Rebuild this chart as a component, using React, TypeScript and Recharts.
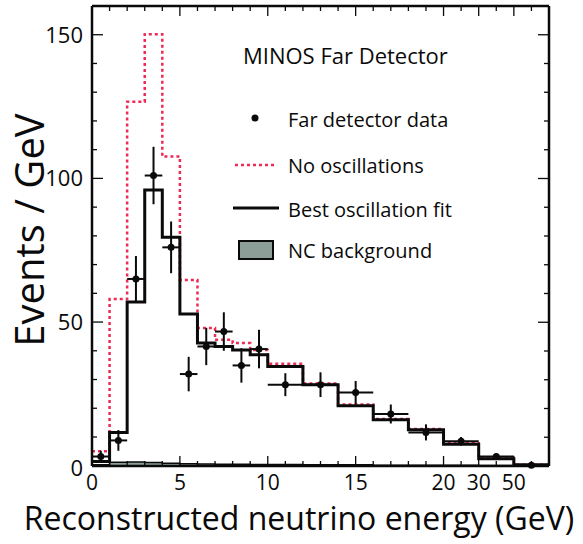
import {
  ComposedChart,
  Line,
  Area,
  Scatter,
  ErrorBar,
  XAxis,
  YAxis,
} from 'recharts';

// bin edges in GeV (axis is linear to 20 GeV, then compressed: 30, 50, overflow)
const binEdges = [0, 1, 2, 3, 4, 5, 6, 7, 8, 9, 10, 12, 14, 16, 18, 20, 30, 50, 200];

const bestFit = [1.5, 11.6, 57, 96, 79.5, 52.8, 42.7, 41.5, 40.3, 38.6, 34.5, 28.2, 20.9, 16, 12.5, 7.5, 2.4, 0.3];
const noOscillations = [5, 58, 126.7, 150.2, 107.6, 64.6, 47.9, 43.8, 42.7, 40.3, 35.5, 28.6, 21.3, 16.3, 12.8, 7.8, 2.6, 0.3];
const ncBackground = [0.3, 1.2, 1.3, 1.1, 0.9, 0.7, 0.6, 0.5, 0.5, 0.4, 0.4, 0.3, 0.3, 0.2, 0.2, 0.2, 0.1, 0];

const dataValues = [3.2, 8.8, 65, 101, 76, 31.9, 41.5, 46.7, 34.9, 40.6, 28.2, 28.2, 25.5, 18, 11.6, 8.5, 3.2, 0.2];
const dataErrors = [2, 3.6, 8, 10, 9, 6, 6.5, 6.7, 6, 6.7, 4, 4.3, 4, 3.3, 2.8, 1.5, 1, 0.3];

const xTickEnergies = [0, 5, 10, 15, 20, 30, 50];
const xTickLabels = ['0', '5', '10', '15', '20', '30', '50'];
const yTickValues = [0, 50, 100, 150];

const FONT = '"Open Sans", sans-serif';
const INK = '#0a0a0a';

// piecewise axis transform GeV -> axis units
function toAxis(e: number) {
  if (e <= 20) return e;
  if (e <= 30) return 20 + (e - 20) / 5;
  if (e <= 50) return 22 + (e - 30) / 10;
  return 24 + (e - 50) / 75;
}

function stepData(values: number[]) {
  const pts = values.map((v, i) => ({ u: toAxis(binEdges[i]), y: v }));
  pts.push({ u: toAxis(binEdges[binEdges.length - 1]), y: values[values.length - 1] });
  return pts;
}

const fitData = stepData(bestFit);
const noOscData = stepData(noOscillations);
const ncData = stepData(ncBackground);

const pointData = dataValues.map((v, i) => {
  const lo = toAxis(binEdges[i]);
  const hi = toAxis(binEdges[i + 1]);
  return { u: (lo + hi) / 2, y: v, ex: (hi - lo) / 2, ey: dataErrors[i] };
});

const uMax = toAxis(binEdges[binEdges.length - 1]);
const minorX = Array.from({ length: Math.floor(uMax) + 1 }, (_, i) => i);
const minorY = Array.from({ length: 17 }, (_, i) => i * 10);

function xLabel(u: number) {
  const idx = xTickEnergies.findIndex((e) => Math.abs(toAxis(e) - u) < 1e-6);
  return idx >= 0 ? xTickLabels[idx] : undefined;
}

function BottomTick(props: any) {
  const { x, y, payload } = props;
  const lbl = xLabel(payload.value);
  const len = lbl !== undefined && payload.value > 0 ? 10 : 5;
  return (
    <g>
      <line x1={x} x2={x} y1={y} y2={y - len} stroke={INK} strokeWidth={1.3} />
      {lbl !== undefined && (
        <text x={x} y={y + 24} textAnchor="middle" fontSize={21} fontFamily={FONT} fill={INK}>
          {lbl}
        </text>
      )}
    </g>
  );
}

function TopTick(props: any) {
  const { x, y, payload } = props;
  const major = xLabel(payload.value) !== undefined && payload.value > 0;
  return <line x1={x} x2={x} y1={y} y2={y + (major ? 10 : 5)} stroke={INK} strokeWidth={1.3} />;
}

function LeftTick(props: any) {
  const { x, y, payload } = props;
  const major = yTickValues.includes(payload.value);
  return (
    <g>
      <line x1={x} x2={x + (major ? 11 : 5)} y1={y} y2={y} stroke={INK} strokeWidth={1.3} />
      {major && (
        <text x={x - 9} y={y + (payload.value === 0 ? 10 : 8)} textAnchor="end" fontSize={22} fontFamily={FONT} fill={INK}>
          {payload.value}
        </text>
      )}
    </g>
  );
}

function RightTick(props: any) {
  const { x, y, payload } = props;
  const major = yTickValues.includes(payload.value);
  return <line x1={x} x2={x - (major ? 11 : 5)} y1={y} y2={y} stroke={INK} strokeWidth={1.3} />;
}

function Dot(props: any) {
  const { cx, cy } = props;
  return <circle cx={cx} cy={cy} r={3.5} fill={INK} />;
}

export default function App() {
  return (
    <div style={{ position: 'absolute', left: 0, top: 0, width: 583, height: 544, background: '#fff' }}>
      <ComposedChart width={583} height={544} margin={{ top: 5, right: 33, bottom: 0, left: 0 }}>
        <XAxis
          dataKey="u"
          type="number"
          domain={[0, uMax]}
          ticks={minorX}
          interval={0}
          height={78}
          tickSize={0}
          tickMargin={0}
          tickLine={false}
          tick={<BottomTick />}
          axisLine={{ stroke: INK, strokeWidth: 2.5 }}
        />
        <XAxis
          xAxisId="top"
          orientation="top"
          dataKey="u"
          type="number"
          domain={[0, uMax]}
          ticks={minorX}
          interval={0}
          height={1}
          tickSize={0}
          tickMargin={0}
          tickLine={false}
          tick={<TopTick />}
          axisLine={{ stroke: INK, strokeWidth: 2.5 }}
        />
        <YAxis
          type="number"
          domain={[0, 160]}
          ticks={minorY}
          interval={0}
          width={92}
          tickSize={0}
          tickMargin={0}
          tickLine={false}
          tick={<LeftTick />}
          axisLine={{ stroke: INK, strokeWidth: 2.5 }}
        />
        <YAxis
          yAxisId="right"
          orientation="right"
          type="number"
          domain={[0, 160]}
          ticks={minorY}
          interval={0}
          width={1}
          tickSize={0}
          tickMargin={0}
          tickLine={false}
          tick={<RightTick />}
          axisLine={{ stroke: INK, strokeWidth: 2.5 }}
        />
        <Area
          data={ncData}
          dataKey="y"
          type="stepAfter"
          stroke={INK}
          strokeWidth={1.5}
          fill="#8d9e98"
          fillOpacity={1}
          isAnimationActive={false}
          dot={false}
          activeDot={false}
        />
        {/* frame helper: binds the top and right axes so they get drawn */}
        <Line
          data={ncData}
          dataKey="y"
          xAxisId="top"
          yAxisId="right"
          stroke="none"
          dot={false}
          activeDot={false}
          legendType="none"
          isAnimationActive={false}
        />
        <Line
          data={noOscData}
          dataKey="y"
          type="stepAfter"
          stroke="#ee2a55"
          strokeWidth={2.5}
          strokeDasharray="3 3"
          dot={false}
          activeDot={false}
          isAnimationActive={false}
        />
        <Line
          data={fitData}
          dataKey="y"
          type="stepAfter"
          stroke={INK}
          strokeWidth={3}
          dot={false}
          activeDot={false}
          isAnimationActive={false}
        />
        <Scatter data={pointData} dataKey="y" shape={<Dot />} isAnimationActive={false}>
          <ErrorBar dataKey="ey" direction="y" width={0} stroke={INK} strokeWidth={2} />
          <ErrorBar dataKey="ex" direction="x" width={0} stroke={INK} strokeWidth={2} />
        </Scatter>
      </ComposedChart>
      <svg
        width={583}
        height={544}
        style={{ position: 'absolute', left: 0, top: 0, pointerEvents: 'none' }}
      >
        <g fontFamily={FONT} fill={INK}>
          <text x={243} y={64} fontSize={22}>MINOS Far Detector</text>
          <circle cx={255} cy={118} r={3.5} fill={INK} />
          <text x={288} y={127} fontSize={20}>Far detector data</text>
          <line x1={235} x2={274} y1={165} y2={165} stroke="#ee2a55" strokeWidth={2.5} strokeDasharray="3 3" />
          <text x={288} y={173} fontSize={20}>No oscillations</text>
          <line x1={233} x2={279} y1={208} y2={208} stroke={INK} strokeWidth={3} />
          <text x={288} y={217} fontSize={20}>Best oscillation fit</text>
          <rect x={239} y={241} width={34} height={18} fill="#8d9e98" stroke={INK} strokeWidth={2} />
          <text x={288} y={258} fontSize={20}>NC background</text>
          <text x={299} y={530} fontSize={32} textAnchor="middle">Reconstructed neutrino energy (GeV)</text>
          <text
            x={0}
            y={0}
            fontSize={40}
            textAnchor="middle"
            transform="translate(44 230) rotate(-90)"
          >
            Events / GeV
          </text>
        </g>
      </svg>
    </div>
  );
}
